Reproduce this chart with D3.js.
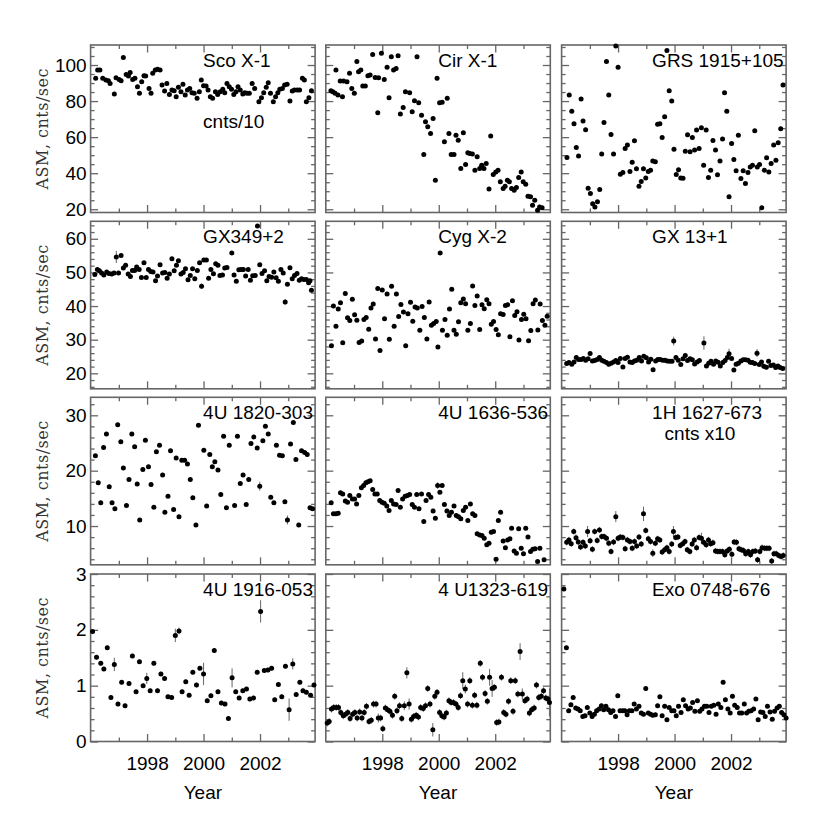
<!DOCTYPE html>
<html>
<head>
<meta charset="utf-8">
<script src="https://cdn.jsdelivr.net/npm/d3@7/dist/d3.min.js"></script>
<style>
body { margin: 0; background: #fff; }
</style>
</head>
<body>
<svg></svg>
<script>
// ASM light curves, [year, cnts/sec, (error)]
var scoX1 = [[1996.18,92.6],[1996.25,97.2],[1996.33,97.2],[1996.43,92.6],[1996.54,91.7],[1996.63,91.3],[1996.69,89.8],[1996.84,83.9],[1996.90,93.0],[1997.01,92.0],[1997.08,91.3],[1997.16,104.1],[1997.26,94.8],[1997.34,93.9],[1997.40,95.9],[1997.49,92.0],[1997.57,92.6],[1997.66,88.0],[1997.73,84.3],[1997.81,90.7],[1997.89,94.1],[1997.95,93.9],[1998.07,87.0],[1998.14,84.3],[1998.20,95.4],[1998.29,97.2],[1998.37,97.6],[1998.46,97.2],[1998.53,88.9],[1998.62,85.6],[1998.70,89.8],[1998.79,83.7],[1998.88,86.1],[1998.96,85.7],[1999.03,82.4],[1999.11,87.6],[1999.20,85.2],[1999.27,89.3],[1999.35,83.3],[1999.43,86.1],[1999.51,87.0],[1999.59,84.6],[1999.67,84.3],[1999.77,81.5],[1999.85,85.2],[1999.92,91.7],[2000.00,88.5],[2000.09,88.3],[2000.16,86.1],[2000.24,82.4],[2000.32,81.5],[2000.42,85.2],[2000.50,83.7],[2000.59,85.2],[2000.68,86.5],[2000.75,84.6],[2000.83,89.8],[2000.91,88.0],[2000.99,86.5],[2001.07,83.7],[2001.15,85.2],[2001.22,88.0],[2001.30,86.1],[2001.39,83.9],[2001.46,84.6],[2001.54,84.3],[2001.62,84.3],[2001.72,89.8],[2001.81,87.0],[2001.96,79.6],[2002.05,81.9],[2002.13,84.6],[2002.22,87.6],[2002.29,90.2],[2002.37,84.3],[2002.47,79.6],[2002.55,82.4],[2002.63,84.6],[2002.70,86.5],[2002.79,87.0],[2002.87,88.9],[2002.96,89.3],[2003.06,80.0],[2003.14,85.6],[2003.22,86.1],[2003.32,86.1],[2003.40,86.1],[2003.50,92.6],[2003.57,91.7],[2003.64,79.6],[2003.73,81.9],[2003.82,85.7]];

var cirX1 = [[1996.18,85.7],[1996.25,85.2],[1996.33,84.3],[1996.36,97.2],[1996.43,83.3],[1996.51,91.1],[1996.59,82.4],[1996.63,91.1],[1996.75,90.7],[1996.84,95.4],[1996.92,87.0],[1997.01,84.3],[1997.10,101.9],[1997.16,96.3],[1997.24,97.2],[1997.31,88.3],[1997.40,88.3],[1997.49,94.1],[1997.57,94.4],[1997.66,105.9],[1997.75,93.1],[1997.84,73.5],[1997.87,93.0],[1997.97,106.5],[1998.07,92.0],[1998.17,98.7],[1998.24,81.9],[1998.32,104.6],[1998.40,97.2],[1998.49,98.1],[1998.56,105.2],[1998.64,72.8],[1998.74,76.5],[1998.82,85.2],[1998.97,84.6],[1999.06,74.1],[1999.14,80.2],[1999.23,104.6],[1999.29,79.1],[1999.39,72.2],[1999.47,50.4],[1999.53,68.5],[1999.61,65.7],[1999.71,62.0],[1999.80,70.4],[1999.88,36.1],[1999.94,92.6],[2000.03,79.1],[2000.12,79.4],[2000.20,57.4],[2000.30,81.5],[2000.36,62.0],[2000.44,50.4],[2000.54,50.4],[2000.61,61.1],[2000.69,58.3],[2000.78,42.6],[2000.87,62.4],[2000.95,44.8],[2001.03,51.3],[2001.10,50.9],[2001.19,50.6],[2001.28,41.7],[2001.36,49.1],[2001.45,42.6],[2001.52,44.4],[2001.60,42.6],[2001.68,45.4],[2001.78,31.3],[2001.84,60.6],[2001.93,39.3],[2002.02,40.7],[2002.10,41.7],[2002.18,35.2],[2002.28,31.5],[2002.35,32.8],[2002.43,36.1],[2002.50,35.2],[2002.58,31.5],[2002.67,30.6],[2002.75,32.0],[2002.83,37.6],[2002.92,40.7],[2002.99,35.2],[2003.08,33.9],[2003.16,27.2],[2003.25,26.9],[2003.32,22.2],[2003.40,25.0],[2003.50,19.4],[2003.57,21.3],[2003.66,20.9]];

var grs1915 = [[1996.19,48.7],[1996.27,83.3],[1996.36,74.3],[1996.44,67.4],[1996.52,54.3],[1996.60,49.6],[1996.69,81.1],[1996.76,68.9],[1996.85,64.1],[1996.94,31.7],[1997.02,28.7],[1997.10,23.1],[1997.18,21.3],[1997.27,24.1],[1997.35,30.9],[1997.42,50.6],[1997.50,68.1],[1997.59,101.9],[1997.67,83.3],[1997.75,61.5],[1997.84,50.6],[1997.92,110.5],[1998.00,98.7],[1998.08,39.4],[1998.17,40.4],[1998.25,53.7],[1998.33,55.7],[1998.42,40.9],[1998.50,46.1],[1998.58,58.0],[1998.65,42.4],[1998.74,32.8],[1998.82,35.4],[1998.90,42.4],[1998.98,37.4],[1999.07,40.9],[1999.15,41.7],[1999.23,46.7],[1999.32,46.3],[1999.40,67.2],[1999.48,67.4],[1999.56,59.8],[1999.65,71.3],[1999.73,108.0],[1999.81,85.7],[1999.90,80.0],[1999.98,53.3],[2000.06,39.3],[2000.14,41.9],[2000.22,37.4],[2000.30,37.2],[2000.38,52.2],[2000.46,61.3],[2000.55,51.9],[2000.63,59.8],[2000.71,52.8],[2000.78,63.9],[2000.87,53.7],[2000.95,65.2],[2001.03,44.4],[2001.12,63.9],[2001.20,37.6],[2001.28,41.7],[2001.36,58.1],[2001.45,52.8],[2001.52,39.1],[2001.61,46.7],[2001.70,58.9],[2001.77,84.6],[2001.85,74.4],[2001.93,26.9],[2002.02,56.5],[2002.10,47.6],[2002.18,41.3],[2002.26,61.1],[2002.35,37.0],[2002.43,41.3],[2002.51,34.3],[2002.60,40.4],[2002.68,43.5],[2002.76,44.4],[2002.84,63.5],[2002.93,43.5],[2003.01,44.8],[2003.09,20.9],[2003.18,41.7],[2003.26,48.5],[2003.34,40.7],[2003.42,45.4],[2003.51,55.6],[2003.59,47.2],[2003.67,56.9],[2003.76,64.6],[2003.84,88.9]];

var gx349 = [[1996.15,49.4],[1996.24,50.9],[1996.31,50.5],[1996.39,49.8],[1996.47,49.2],[1996.57,50.1],[1996.65,49.7],[1996.75,49.5],[1996.83,49.8],[1996.91,54.6,1.8],[1996.99,49.8],[1997.08,55.0],[1997.16,51.3],[1997.24,52.1],[1997.33,49.5],[1997.41,48.8],[1997.48,50.6],[1997.56,50.6],[1997.63,51.6],[1997.72,50.9],[1997.80,48.5],[1997.89,52.9],[1997.97,48.5],[1998.05,50.9],[1998.13,50.3],[1998.21,50.1],[1998.30,47.5],[1998.37,48.9],[1998.46,52.3],[1998.55,49.8],[1998.63,50.0],[1998.71,48.3],[1998.79,49.5],[1998.88,54.1],[1998.96,50.5],[1999.04,52.1],[1999.11,53.5],[1999.20,49.5],[1999.28,50.0],[1999.36,51.1],[1999.45,47.8],[1999.53,49.1],[1999.61,51.1],[1999.69,48.1],[1999.78,50.6],[1999.86,52.9],[1999.93,45.9,0.8],[2000.01,53.7],[2000.10,53.7],[2000.18,48.3],[2000.26,50.9],[2000.35,49.6],[2000.43,52.6],[2000.51,52.1],[2000.58,49.1],[2000.67,49.2],[2000.75,51.3],[2000.83,51.5],[2001.00,55.8],[2001.08,49.2],[2001.16,47.4],[2001.25,50.8],[2001.33,50.9],[2001.41,50.9],[2001.49,48.9],[2001.58,50.9],[2001.66,47.7],[2001.74,49.0],[2001.83,49.1],[2001.91,63.8],[2001.99,52.3],[2002.07,49.7],[2002.16,50.5],[2002.24,47.5],[2002.32,48.8],[2002.41,48.6],[2002.49,50.1],[2002.57,48.4],[2002.65,47.4],[2002.74,50.9],[2002.82,49.8],[2002.89,41.2,0.8],[2002.97,46.5],[2003.06,51.4],[2003.14,48.1],[2003.22,49.1],[2003.31,49.7],[2003.39,47.7],[2003.47,48.1],[2003.55,47.9],[2003.64,47.9],[2003.72,46.9],[2003.77,47.5],[2003.82,44.7]];

var cygX2 = [[1996.20,28.2],[1996.27,40.0],[1996.36,34.0],[1996.44,39.1],[1996.52,41.0],[1996.60,29.1],[1996.69,43.7],[1996.77,36.5],[1996.85,35.7],[1996.94,42.0],[1997.02,37.4],[1997.10,35.8],[1997.18,29.2],[1997.27,29.6],[1997.35,36.0],[1997.43,36.6],[1997.52,33.1],[1997.60,39.4],[1997.68,40.6],[1997.76,30.2],[1997.84,45.2],[1997.92,26.8],[1998.00,44.8],[1998.08,36.2],[1998.17,43.6],[1998.25,30.1],[1998.33,45.9],[1998.42,34.0],[1998.50,43.6],[1998.58,36.9],[1998.66,40.5],[1998.75,38.2],[1998.83,28.2],[1998.91,37.7],[1999.00,41.1],[1999.08,35.5],[1999.16,39.7],[1999.24,39.4],[1999.33,32.8],[1999.41,39.9],[1999.49,36.6],[1999.58,30.2],[1999.66,41.2],[1999.74,34.3],[1999.82,34.8],[1999.91,35.4],[1999.97,27.8],[2000.05,55.8],[2000.13,32.8],[2000.22,36.0],[2000.30,31.3],[2000.38,39.1],[2000.46,45.0],[2000.54,32.8],[2000.62,31.6],[2000.70,35.3],[2000.78,41.0],[2000.87,42.1],[2000.95,40.7],[2001.03,32.8],[2001.12,34.8],[2001.20,46.0],[2001.28,40.2],[2001.36,43.0],[2001.45,33.0],[2001.53,40.4],[2001.61,39.2],[2001.70,41.9],[2001.78,40.7],[2001.86,34.6],[2001.94,35.4],[2002.03,33.0],[2002.11,31.5],[2002.19,37.7],[2002.28,37.5],[2002.36,40.2],[2002.44,40.4],[2002.52,30.9],[2002.61,41.6],[2002.69,37.2],[2002.77,38.3],[2002.84,29.9],[2002.93,36.0],[2003.01,37.6],[2003.09,36.2],[2003.18,29.7],[2003.26,32.7],[2003.34,40.7],[2003.42,41.8],[2003.51,32.9],[2003.59,40.6],[2003.67,35.7],[2003.76,34.3],[2003.84,37.0]];

var gx13 = [[1996.18,22.9],[1996.26,23.2],[1996.36,22.7],[1996.44,23.4],[1996.52,24.7],[1996.60,24.1],[1996.69,24.1],[1996.77,24.4],[1996.85,23.9],[1996.94,24.3],[1997.01,25.9,0.6],[1997.09,23.7],[1997.17,23.8],[1997.26,24.1],[1997.34,24.7],[1997.42,23.9],[1997.50,23.6],[1997.59,23.2],[1997.67,22.7],[1997.75,23.0],[1997.84,23.4],[1997.92,23.8],[1998.00,23.2],[1998.08,24.4],[1998.17,21.9],[1998.25,24.4],[1998.33,24.8],[1998.42,23.4],[1998.50,23.2],[1998.58,23.7],[1998.66,23.9],[1998.75,24.7],[1998.83,23.7],[1998.91,25.1],[1999.00,24.6],[1999.08,23.4],[1999.16,24.2],[1999.24,21.1],[1999.33,23.7],[1999.41,24.1],[1999.49,24.1],[1999.58,23.9],[1999.66,23.9],[1999.74,23.7],[1999.82,23.6],[1999.91,23.6],[1999.97,29.6,1.3],[2000.05,24.7],[2000.13,23.9],[2000.22,22.6],[2000.30,24.3],[2000.38,25.3],[2000.46,23.8],[2000.55,24.3],[2000.63,24.0],[2000.71,22.8],[2000.80,23.4],[2000.88,23.8],[2001.04,29.0,2.0],[2001.13,22.2],[2001.21,23.0],[2001.29,23.6],[2001.38,22.7],[2001.46,23.7],[2001.54,23.3],[2001.62,22.2],[2001.71,23.2],[2001.79,23.8],[2001.87,24.7],[2001.93,25.8,1.5],[2002.02,24.4],[2002.10,21.0],[2002.18,22.7],[2002.26,23.0],[2002.35,23.7],[2002.43,24.0],[2002.51,24.0],[2002.60,23.9],[2002.68,23.3],[2002.76,23.2],[2002.84,22.9],[2002.92,26.0,1.2],[2003.00,22.6],[2003.08,23.4],[2003.16,22.1],[2003.25,21.8],[2003.33,23.6],[2003.41,22.3],[2003.50,22.5],[2003.58,21.7],[2003.66,22.2],[2003.74,21.7],[2003.83,21.4]];

var u1820 = [[1996.17,22.7],[1996.27,17.8],[1996.36,14.2],[1996.46,24.2],[1996.56,26.6],[1996.66,17.1],[1996.76,14.2],[1996.86,13.1],[1996.96,28.3],[1997.07,25.2],[1997.16,20.5],[1997.27,13.7],[1997.36,18.4],[1997.46,26.6],[1997.56,24.3],[1997.65,17.6],[1997.74,11.1],[1997.85,20.2],[1997.94,25.5],[1998.05,20.7],[1998.14,17.5],[1998.24,13.4],[1998.33,23.4],[1998.44,24.6],[1998.55,19.2],[1998.63,12.5],[1998.74,15.4],[1998.83,23.6],[1998.94,13.0],[1999.03,22.3],[1999.13,11.7],[1999.23,21.9],[1999.33,21.9],[1999.43,21.2],[1999.53,18.4],[1999.62,15.1],[1999.73,10.2],[1999.82,28.2],[2000.01,23.7],[2000.11,13.6],[2000.22,22.9],[2000.31,20.7],[2000.40,21.6],[2000.51,20.1],[2000.61,15.7],[2000.71,26.2],[2000.81,13.3],[2000.91,24.6],[2001.10,13.7],[2001.20,26.2],[2001.30,17.7],[2001.40,19.2],[2001.51,13.9],[2001.60,18.4],[2001.68,24.9],[2001.78,26.1],[2001.90,24.1],[2001.99,17.2,0.8],[2002.10,25.4],[2002.19,28.0],[2002.29,26.6],[2002.38,15.2],[2002.49,14.2],[2002.58,24.6],[2002.69,22.8],[2002.79,22.7],[2002.88,14.4],[2002.97,11.1,0.8],[2003.08,24.8],[2003.18,28.7],[2003.27,22.0],[2003.37,10.2],[2003.47,23.6],[2003.58,23.3],[2003.67,22.9],[2003.77,13.3],[2003.86,13.1]];

var u1636 = [[1996.19,14.2],[1996.27,12.2],[1996.36,12.2],[1996.44,12.3],[1996.52,16.0],[1996.60,15.8],[1996.69,14.5],[1996.77,14.3],[1996.85,15.5],[1996.94,14.9],[1997.02,14.9],[1997.09,14.0],[1997.17,15.5],[1997.26,16.9],[1997.34,17.3],[1997.42,17.8],[1997.49,18.0],[1997.57,18.2],[1997.66,16.6],[1997.74,15.8],[1997.82,15.8],[1997.91,14.6],[1997.99,14.3],[1998.07,14.1],[1998.16,13.6],[1998.24,12.8],[1998.32,14.6],[1998.40,14.0],[1998.49,13.9],[1998.56,16.4],[1998.64,13.4],[1998.72,14.9],[1998.81,15.4],[1998.89,15.5],[1998.97,15.7],[1999.06,13.9],[1999.14,13.4],[1999.22,15.7],[1999.30,13.1],[1999.39,15.8],[1999.47,10.8],[1999.55,14.6],[1999.64,15.7],[1999.72,15.2],[1999.80,12.7],[1999.88,11.4],[1999.96,17.3,0.6],[2000.04,16.1],[2000.12,17.3],[2000.20,13.9],[2000.29,12.7],[2000.37,11.9],[2000.45,12.5],[2000.54,13.6],[2000.62,11.9],[2000.70,11.7],[2000.78,11.3],[2000.87,12.8],[2000.95,13.4],[2001.03,11.0],[2001.12,14.0],[2001.20,12.2],[2001.28,11.9],[2001.36,8.6],[2001.45,8.4],[2001.53,8.3],[2001.61,7.8],[2001.70,6.6],[2001.78,6.9],[2001.86,8.9],[2001.94,9.0],[2002.03,4.0],[2002.11,11.0],[2002.19,12.5],[2002.28,7.3],[2002.36,6.1],[2002.44,7.5],[2002.52,7.7],[2002.58,9.6],[2002.67,5.5],[2002.75,5.1],[2002.83,9.5],[2002.92,6.0],[2003.00,5.0],[2003.08,9.6],[2003.16,8.0],[2003.25,5.4],[2003.33,5.8],[2003.41,5.9],[2003.50,3.6],[2003.58,6.0],[2003.73,3.9]];

var h1627 = [[1996.18,7.05],[1996.26,7.5],[1996.34,6.8],[1996.43,9.0],[1996.51,7.9],[1996.59,7.1],[1996.67,6.2],[1996.76,7.05],[1996.84,6.4],[1996.92,9.0,1.0],[1997.01,7.35],[1997.09,5.8],[1997.17,9.0],[1997.26,7.4],[1997.34,9.3],[1997.42,8.1],[1997.50,8.1],[1997.59,7.8],[1997.67,6.9],[1997.75,5.4],[1997.84,7.1],[1997.92,11.7,1.0],[1998.00,7.8],[1998.08,8.0],[1998.17,7.95],[1998.25,5.9],[1998.33,7.5],[1998.42,7.2],[1998.50,6.0],[1998.58,7.2],[1998.66,6.4],[1998.74,8.0],[1998.82,6.75],[1998.90,12.2,1.3],[1998.98,9.2],[1999.07,7.7],[1999.15,7.2],[1999.23,5.1,0.7],[1999.32,6.9],[1999.40,7.7],[1999.48,7.5],[1999.56,5.3],[1999.65,5.7],[1999.73,6.1],[1999.81,5.4],[1999.90,6.75],[1999.96,9.0,1.0],[2000.04,7.95],[2000.12,8.0],[2000.20,6.5],[2000.29,6.8],[2000.37,7.2],[2000.45,5.7],[2000.54,5.4],[2000.62,6.75],[2000.70,7.5],[2000.78,6.1],[2000.87,7.95],[2000.95,7.8,1.0],[2001.03,7.05],[2001.12,6.6],[2001.20,7.5],[2001.28,6.8],[2001.36,7.0],[2001.45,5.5],[2001.53,5.4],[2001.61,5.4],[2001.70,5.4],[2001.78,4.8],[2001.86,5.5],[2001.94,5.8],[2002.03,4.9],[2002.11,7.1],[2002.19,7.05],[2002.28,5.9],[2002.36,5.7],[2002.44,5.6],[2002.52,5.0],[2002.61,5.4],[2002.69,4.8],[2002.77,5.4],[2002.86,5.5],[2002.94,3.9],[2003.02,5.4],[2003.10,6.1],[2003.19,6.0],[2003.27,6.0],[2003.35,6.0],[2003.44,3.7],[2003.52,5.0],[2003.60,5.0],[2003.69,4.7],[2003.77,4.5],[2003.85,4.7]];

var u1916 = [[1996.07,1.97],[1996.21,1.51],[1996.36,1.40],[1996.47,1.30],[1996.59,1.68],[1996.72,0.79],[1996.84,1.38,0.12],[1996.97,0.67],[1997.10,1.06],[1997.22,0.64],[1997.36,1.04],[1997.48,1.53],[1997.61,0.89],[1997.73,1.43],[1997.86,1.00],[1997.99,1.13,0.1],[1998.11,0.91],[1998.24,1.40],[1998.37,0.91],[1998.49,1.21],[1998.62,1.13],[1998.74,0.80],[1998.87,0.79],[1999.00,1.90,0.12],[1999.13,1.98,0.06],[1999.24,0.89],[1999.37,1.07],[1999.49,0.83],[1999.62,1.24],[1999.75,1.01],[1999.87,1.31],[2000.00,1.21,0.2],[2000.13,0.73],[2000.26,0.82],[2000.38,1.63],[2000.51,0.89],[2000.63,0.69],[2000.76,0.67],[2000.88,0.41],[2001.01,1.14,0.17],[2001.14,0.89],[2001.26,0.78],[2001.39,0.91],[2001.52,0.94],[2001.64,0.76],[2001.77,0.78],[2001.90,1.24],[2002.02,2.33,0.2],[2002.15,1.27],[2002.28,1.28],[2002.41,1.31],[2002.52,0.75],[2002.65,1.02],[2002.77,0.80],[2002.90,1.35],[2003.03,0.57,0.2],[2003.16,1.39,0.1],[2003.28,0.84],[2003.41,1.06],[2003.52,0.91],[2003.64,0.88],[2003.79,0.83],[2003.91,1.01]];

var u1323 = [[1996.05,0.33],[1996.12,0.36],[1996.20,0.58],[1996.28,0.61],[1996.37,0.61],[1996.45,0.61],[1996.53,0.52],[1996.62,0.46],[1996.70,0.49],[1996.78,0.52],[1996.86,0.41],[1996.95,0.49],[1997.03,0.52],[1997.11,0.42],[1997.20,0.53],[1997.28,0.42],[1997.36,0.52],[1997.44,0.63],[1997.53,0.36],[1997.61,0.38],[1997.69,0.67],[1997.78,0.67],[1997.86,0.42,0.08],[1997.94,0.42],[1998.02,0.23,0.06],[1998.11,0.60],[1998.19,0.57],[1998.27,0.54],[1998.36,0.47],[1998.44,0.81],[1998.52,0.55],[1998.61,0.64],[1998.69,0.41],[1998.78,0.64,0.08],[1998.87,1.23,0.1],[1998.95,0.67,0.1],[1999.03,0.40],[1999.11,0.45],[1999.20,0.47],[1999.28,0.44],[1999.36,0.61],[1999.45,0.59],[1999.53,0.64],[1999.61,0.95],[1999.69,0.67],[1999.79,0.21,0.12],[1999.86,0.81],[1999.94,0.88],[2000.03,0.52],[2000.11,0.46],[2000.19,0.44],[2000.27,0.51],[2000.36,0.73],[2000.44,0.70],[2000.52,0.70],[2000.61,0.67],[2000.69,0.61],[2000.77,0.82],[2000.85,1.09,0.15],[2000.94,0.94,0.08],[2001.02,0.67],[2001.10,1.09],[2001.19,0.65],[2001.27,0.83],[2001.35,0.65],[2001.47,1.40,0.06],[2001.55,1.15],[2001.64,0.86],[2001.72,0.72],[2001.80,1.15,0.15],[2001.89,0.95,0.15],[2001.97,0.97],[2002.05,0.34],[2002.13,0.35],[2002.22,1.15],[2002.30,0.52],[2002.38,0.49],[2002.47,0.72],[2002.55,1.09],[2002.63,0.54],[2002.71,1.09],[2002.80,0.85],[2002.88,1.61,0.15],[2002.96,0.85,0.1],[2003.05,0.73],[2003.13,0.76],[2003.21,0.51],[2003.29,0.57],[2003.38,0.60],[2003.46,1.01],[2003.54,0.79],[2003.63,0.81],[2003.71,0.91],[2003.79,0.78],[2003.87,0.76],[2003.92,0.70,0.25]];

var exo0748 = [[1996.08,2.73],[1996.17,1.68],[1996.25,0.55],[1996.33,0.66],[1996.41,0.79],[1996.50,0.60],[1996.58,0.58],[1996.66,0.55],[1996.75,0.45],[1996.83,0.46],[1996.91,0.61],[1997.00,0.51],[1997.08,0.45],[1997.16,0.49],[1997.24,0.55],[1997.33,0.58],[1997.41,0.64],[1997.49,0.57],[1997.57,0.63],[1997.66,0.57],[1997.74,0.52],[1997.82,0.55],[1997.91,0.45],[1997.99,0.82],[1998.07,0.55],[1998.16,0.55],[1998.24,0.55],[1998.32,0.48],[1998.40,0.55],[1998.49,0.55],[1998.57,0.67],[1998.65,0.58],[1998.74,0.63],[1998.82,0.51],[1998.90,0.49],[1998.98,0.95],[1999.07,0.51],[1999.15,0.49],[1999.23,0.47],[1999.32,0.48],[1999.40,0.64],[1999.48,0.80],[1999.56,0.46],[1999.65,0.63],[1999.73,0.39],[1999.81,0.61],[1999.90,0.55],[1999.98,0.55],[2000.06,0.46],[2000.14,0.63],[2000.23,0.52],[2000.31,0.75],[2000.39,0.64],[2000.48,0.58],[2000.56,0.60],[2000.64,0.70],[2000.72,0.54],[2000.81,0.73],[2000.89,0.54],[2000.97,0.58],[2001.06,0.63],[2001.14,0.63],[2001.22,0.52],[2001.30,0.63],[2001.39,0.65],[2001.47,0.49],[2001.55,0.67],[2001.64,0.61],[2001.72,1.06],[2001.80,0.75],[2001.89,0.58],[2001.97,0.51],[2002.05,0.81],[2002.13,0.65],[2002.22,0.61],[2002.30,0.51],[2002.38,0.51],[2002.47,0.67],[2002.55,0.51],[2002.63,0.54],[2002.71,0.55],[2002.80,0.58],[2002.88,0.76],[2002.96,0.39],[2003.05,0.53],[2003.13,0.52],[2003.21,0.45],[2003.29,0.63],[2003.38,0.53],[2003.46,0.40],[2003.54,0.54],[2003.63,0.60],[2003.71,0.63],[2003.79,0.52],[2003.87,0.48],[2003.95,0.42]];

// y ranges and tick steps per row
var rowDomains = [[18.2, 111.1], [15.4, 65.2], [3.0, 33.25], [0, 3]];
var rowMajor = [20, 10, 10, 1];
var rowMinor = [5, 2, 2, 0.2];
var yearMajor = [1998, 2000, 2002];
var yearMinor = [1997, 1999, 2001, 2003];

var panels = [
  {title: "Sco X-1", note: "cnts/10", data: scoX1, row: 0, col: 0, err: 0},
  {title: "Cir X-1", data: cirX1, row: 0, col: 1, err: 0},
  {title: "GRS 1915+105", data: grs1915, row: 0, col: 2, err: 0},
  {title: "GX349+2", data: gx349, row: 1, col: 0, err: 0.3},
  {title: "Cyg X-2", data: cygX2, row: 1, col: 1, err: 0.3},
  {title: "GX 13+1", data: gx13, row: 1, col: 2, err: 0.4},
  {title: "4U 1820-303", data: u1820, row: 2, col: 0, err: 0.25},
  {title: "4U 1636-536", data: u1636, row: 2, col: 1, err: 0.2},
  {title: "1H 1627-673", note: "cnts x10", data: h1627, row: 2, col: 2, err: 0.55},
  {title: "4U 1916-053", data: u1916, row: 3, col: 0, err: 0.04},
  {title: "4 U1323-619", data: u1323, row: 3, col: 1, err: 0.06},
  {title: "Exo 0748-676", data: exo0748, row: 3, col: 2, err: 0.035}
];

var WIDTH = 830, HEIGHT = 830;
var colLeft = [90.6, 325.8, 561.6];
var rowTop = [45, 221.3, 397.3, 574];
var PW = 224.5, PH = 167.5;
var titleDx = [112.5, 112.5, 90.5];
var noteDx = [112.5, 0, 103];
var noteDy = [83.3, 0, 42.4, 0];
var FONT = "'Liberation Sans', Arial, Helvetica, sans-serif";
var LINE = "#666";

var svg = d3.select("svg")
    .attr("width", WIDTH)
    .attr("height", HEIGHT)
    .attr("font-family", FONT);

var x = d3.scaleLinear().domain([1996, 2003.95]).range([0, PW]);

function stepTicks(dom, step) {
    var n0 = Math.ceil(dom[0] / step - 1e-6), n1 = Math.floor(dom[1] / step + 1e-6);
    return d3.range(n0, n1 + 1).map(function(i) { return +(i * step).toFixed(4); });
}

function styleAxis(sel) {
    sel.select(".domain").remove();
    sel.selectAll(".tick line").attr("stroke", LINE).attr("stroke-width", 1.3);
    sel.selectAll(".tick text").attr("fill", "#000");
    sel.attr("font-size", 19).attr("font-family", FONT);
}

panels.forEach(function(p) {
    var g = svg.append("g")
        .attr("transform", "translate(" + colLeft[p.col] + "," + rowTop[p.row] + ")");
    var y = d3.scaleLinear().domain(rowDomains[p.row]).range([PH, 0]);
    var major = stepTicks(rowDomains[p.row], rowMajor[p.row]);
    var minor = stepTicks(rowDomains[p.row], rowMinor[p.row]).filter(function(v) {
        return major.indexOf(v) < 0;
    });
    var isLeft = p.col === 0, isBottom = p.row === 3;

    // ticks on all four sides, pointing in
    g.append("g").attr("transform", "translate(0," + PH + ")")
        .call(d3.axisBottom(x).tickValues(yearMajor).tickSize(-7.5).tickPadding(15.5)
            .tickFormat(isBottom ? d3.format("d") : ""))
        .call(styleAxis);
    g.append("g").attr("transform", "translate(0," + PH + ")")
        .call(d3.axisBottom(x).tickValues(yearMinor).tickSize(-4).tickFormat(""))
        .call(styleAxis);
    g.append("g")
        .call(d3.axisTop(x).tickValues(yearMajor).tickSize(-7.5).tickFormat(""))
        .call(styleAxis);
    g.append("g")
        .call(d3.axisTop(x).tickValues(yearMinor).tickSize(-4).tickFormat(""))
        .call(styleAxis);
    g.append("g")
        .call(d3.axisLeft(y).tickValues(major).tickSize(-7.5).tickPadding(4)
            .tickFormat(isLeft ? d3.format("d") : ""))
        .call(styleAxis);
    g.append("g")
        .call(d3.axisLeft(y).tickValues(minor).tickSize(-4).tickFormat(""))
        .call(styleAxis);
    g.append("g").attr("transform", "translate(" + PW + ",0)")
        .call(d3.axisRight(y).tickValues(major).tickSize(-7.5).tickFormat(""))
        .call(styleAxis);
    g.append("g").attr("transform", "translate(" + PW + ",0)")
        .call(d3.axisRight(y).tickValues(minor).tickSize(-4).tickFormat(""))
        .call(styleAxis);

    g.append("rect")
        .attr("width", PW).attr("height", PH)
        .attr("fill", "none").attr("stroke", LINE).attr("stroke-width", 1.6);

    // error bars
    g.append("g").selectAll("line")
        .data(p.data)
        .enter()
        .append("line")
        .attr("x1", function(d) { return x(d[0]); })
        .attr("x2", function(d) { return x(d[0]); })
        .attr("y1", function(d) { return y(d[1] - (d[2] || p.err)); })
        .attr("y2", function(d) { return y(d[1] + (d[2] || p.err)); })
        .attr("stroke", "#666")
        .attr("stroke-width", 1);

    g.append("g").selectAll("circle")
        .data(p.data)
        .enter()
        .append("circle")
        .attr("cx", function(d) { return x(d[0]); })
        .attr("cy", function(d) { return y(d[1]); })
        .attr("r", 2.5)
        .attr("fill", "#000");

    g.append("text")
        .attr("x", titleDx[p.col])
        .attr("y", 21.5)
        .attr("font-size", 19)
        .attr("fill", "#000")
        .text(p.title);

    if (p.note) {
        g.append("text")
            .attr("x", noteDx[p.col])
            .attr("y", noteDy[p.row])
            .attr("font-size", 19)
            .attr("fill", "#000")
            .text(p.note);
    }
});

// y titles
rowTop.forEach(function(t) {
    svg.append("text")
        .attr("transform", "translate(42," + (t + PH / 2) + ") rotate(-90)")
        .attr("text-anchor", "middle")
        .attr("dominant-baseline", "central")
        .attr("font-family", "'DejaVu Serif', serif")
        .attr("font-size", 16)
        .attr("letter-spacing", 0.5)
        .attr("fill", "#333")
        .text("ASM, cnts/sec");
});

// x titles
colLeft.forEach(function(l) {
    svg.append("text")
        .attr("x", l + PW / 2)
        .attr("y", 799.3)
        .attr("text-anchor", "middle")
        .attr("font-size", 19)
        .attr("fill", "#000")
        .text("Year");
});
</script>
</body>
</html>
